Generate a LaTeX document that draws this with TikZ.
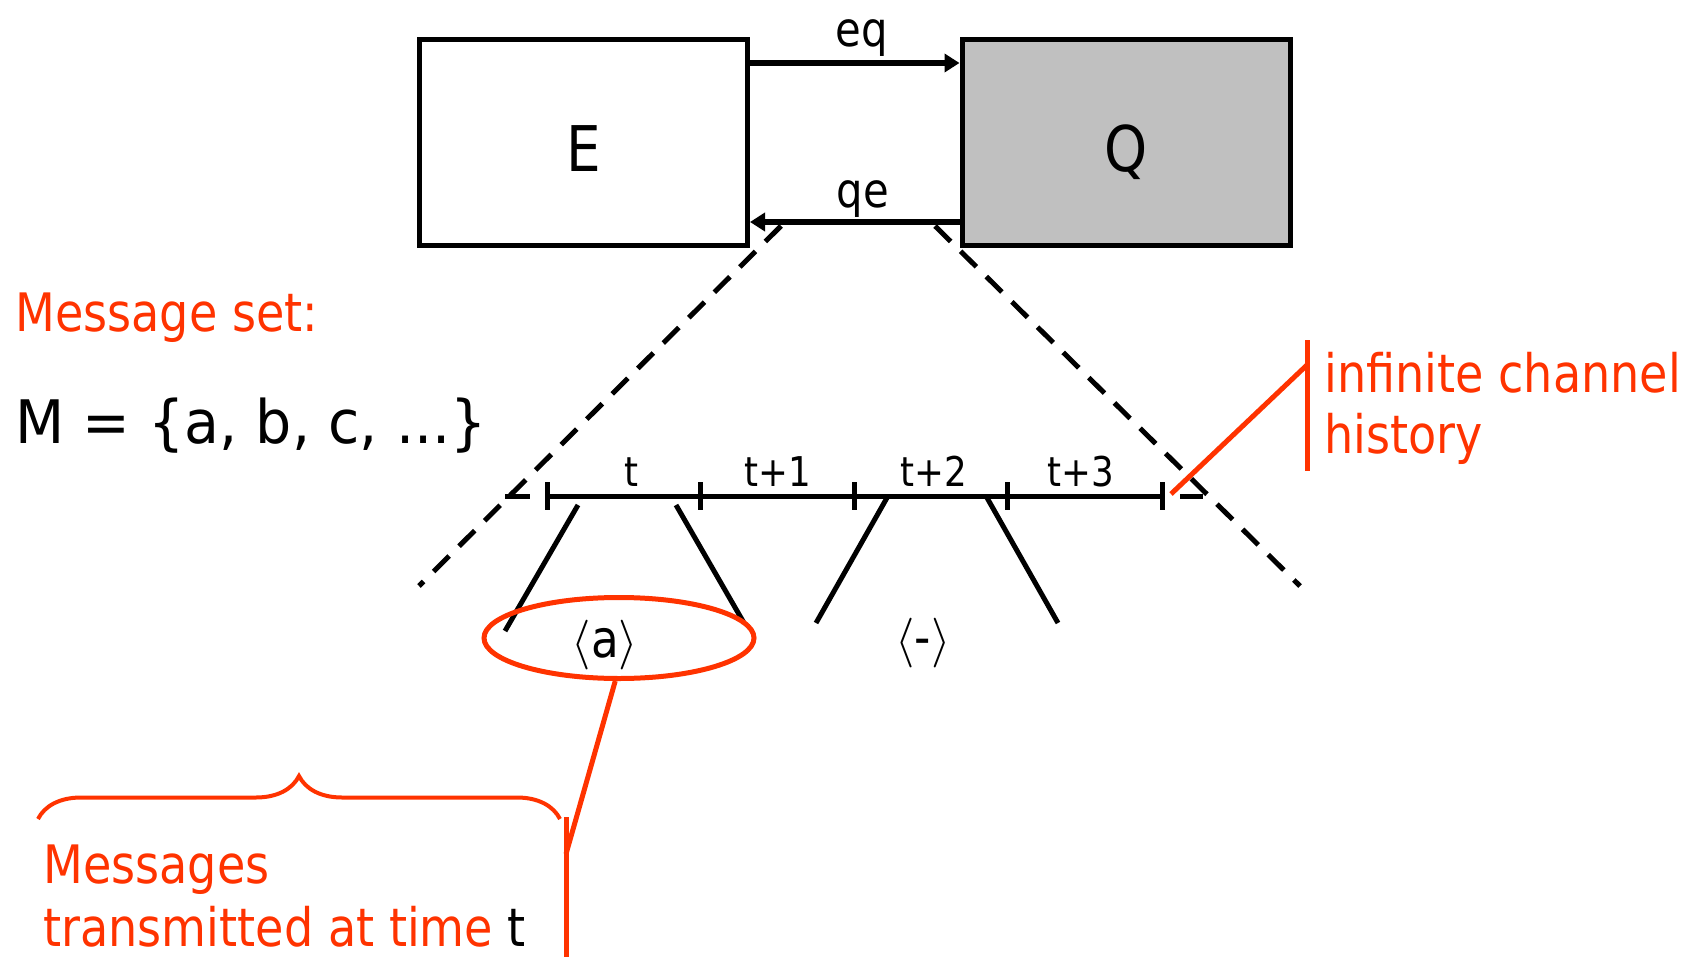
\documentclass[tikz,border=0pt]{standalone}
\usepackage{fontspec}
\setmainfont{DejaVu Sans}[FakeStretch=0.87]
\newfontfamily\msetfont{DejaVu Sans}[FakeStretch=0.95]
\usetikzlibrary{arrows.meta,shapes.geometric,decorations.pathreplacing}
\definecolor{redo}{HTML}{FF3300}
\definecolor{boxgray}{HTML}{C0C0C0}
\tikzset{
  procbox/.style={draw, line width=2.5pt, minimum width=164pt, minimum height=103pt, inner sep=0pt, text height=28.6pt, text depth=0pt, font=\fontsize{31.5}{36}\selectfont},
  arr/.style={line width=2.8pt, -{Triangle[length=7.5pt,width=9pt]}},
  chanlbl/.style={font=\fontsize{24}{28}\selectfont, anchor=base, inner sep=0pt},
  dashline/.style={line width=2.5pt, dash pattern=on 11pt off 7pt},
  tl/.style={line width=2.5pt},
  tlbl/.style={font=\fontsize{20.5}{24}\selectfont, anchor=base, inner sep=0pt},
  msgl/.style={font=\fontsize{26}{30}\selectfont, inner sep=0pt},
  redtxt/.style={text=redo, font=\fontsize{26.5}{31}\selectfont, anchor=base west, inner sep=0pt},
  redline/.style={draw=redo, line width=2.5pt},
}
\begin{document}
\begin{tikzpicture}[x=0.5pt,y=-0.5pt]
\useasboundingbox (0,0) rectangle (1685,957);

% boxes
\node[procbox] (E) at (583.5,143) {E};
\node[procbox, fill=boxgray] (Q) at (1126,143) {Q};

% channels
\coordinate (yeq) at (0,63);
\coordinate (yqe) at (0,222);
\draw[arr] (E.east |- yeq) -- (Q.west |- yeq);
\draw[arr] (Q.west |- yqe) -- (E.east |- yqe);
\node[chanlbl] (eqlbl) at (862,47) {eq};
\node[chanlbl] (qelbl) at (863,208) {qe};

% dashed zoom lines
\coordinate (dl1) at (781,226);
\coordinate (dl2) at (419,586);
\coordinate (dr1) at (935,226);
\coordinate (dr2) at (1300,586);
\draw[dashline] (dl1) -- (dl2);
\draw[dashline] (dr1) -- (dr2);

% timeline
\coordinate (T0) at (547,496);
\coordinate (T1) at (700,496);
\coordinate (T2) at (854,496);
\coordinate (T3) at (1007,496);
\coordinate (T4) at (1162,496);
\draw[tl] (T0) -- (T4);
\foreach \p in {T0,T1,T2,T3,T4}
  \draw[tl] ([yshift=7pt]\p) -- ([yshift=-7pt]\p);
\coordinate (e1a) at (505,496);
\coordinate (e1b) at (530,496);
\coordinate (e2a) at (1180,496);
\coordinate (e2b) at (1203,496);
\draw[tl] (e1a) -- (e1b);
\draw[tl] (e2a) -- (e2b);

\node[tlbl] (l0) at (631,486) {t};
\node[tlbl] (l1) at (778,486) {t+1};
\node[tlbl] (l2) at (934,486) {t+2};
\node[tlbl] (l3) at (1081,486) {t+3};

% funnels
\coordinate (f1a) at (578,505);
\coordinate (f1b) at (505,631);
\coordinate (f1c) at (676,505);
\coordinate (f1d) at (744,623);
\coordinate (f2a) at (888,496);
\coordinate (f2b) at (816,623);
\coordinate (f2c) at (986,496);
\coordinate (f2d) at (1058,623);
\draw[tl] (f1a) -- (f1b);
\draw[tl] (f1c) -- (f1d);
\draw[tl] (f2a) -- (f2b);
\draw[tl] (f2c) -- (f2d);

\node[msgl] (ma) at (605,645) {$\langle$a$\rangle$};
\node[msgl] (mb) at (923,643) {$\langle$-$\rangle$};

% red ellipse and callout
\node[ellipse, redline, minimum width=135pt, minimum height=40.5pt, inner sep=0pt] (ell) at (619,638) {};
\coordinate (c1) at (566,854);
\coordinate (v1) at (566,817);
\coordinate (v2) at (566,957);
\draw[redline] (ell.-95) -- (c1);
\draw[redline] (v1) -- (v2);

\coordinate (b1) at (38,819);
\coordinate (b2) at (560,819);
\draw[redo, line width=2pt, decorate, decoration={brace, amplitude=21.5pt}] (b1) -- (b2);

\node[redtxt] (msg1) at (43,883) {Messages};
\node[redtxt] (msg2) at (43,946) {transmitted at time {\color{black}t}};

% infinite channel history
\coordinate (h1) at (1171,494);
\coordinate (h2) at (1307,365);
\coordinate (h3) at (1307,340);
\coordinate (h4) at (1307,471);
\draw[redline] (h1) -- (h2);
\draw[redline] (h3) -- (h4);
\node[redtxt] (inf1) at (1324,392) {infinite channel};
\node[redtxt] (inf2) at (1324,453) {history};

% message set
\node[redtxt] (ms) at (15,331) {Message set:};
\node[anchor=base west, inner sep=0pt, font=\msetfont\fontsize{30}{34}\selectfont] (mset) at (15,443) {M = \{a, b, c, ...\}};
\end{tikzpicture}
\end{document}
